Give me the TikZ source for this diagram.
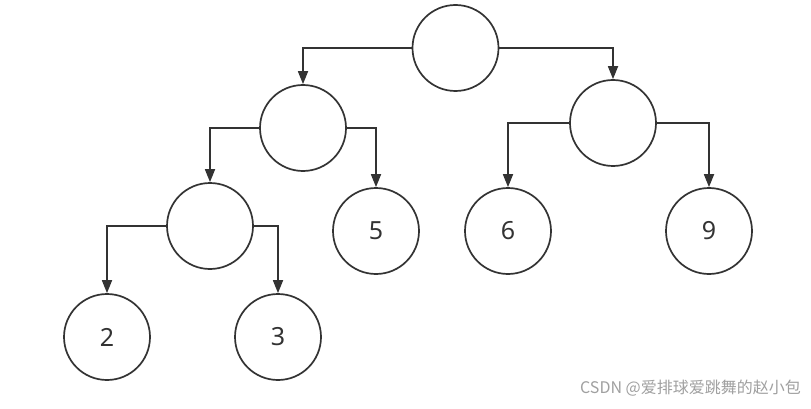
\documentclass[tikz,border=0pt]{standalone}
\usepackage{fontspec}
\setmainfont{Noto Sans}
\newfontfamily\cjk{Noto Sans CJK SC}
\usetikzlibrary{arrows.meta}
\definecolor{ink}{HTML}{333333}
\definecolor{wm}{HTML}{A0A0A0}
\begin{document}
\begin{tikzpicture}[x=1pt,y=-1pt,
  tnode/.style={circle,draw=ink,line width=1.7pt,minimum size=86pt,inner sep=0pt,
    text=ink,font=\fontsize{25}{25}\selectfont},
  link/.style={draw=ink,line width=1.7pt,-{Triangle[width=10pt,length=13pt]}}]
\useasboundingbox[fill=white] (0,0) rectangle (811,409);
\node[tnode] (r) at (455.5,48) {};
\node[tnode] (l) at (303,128) {};
\node[tnode] (rr) at (613,123) {};
\node[tnode] (ll) at (210,226) {};
\node[tnode] (n5) at (376,231) {5};
\node[tnode] (n6) at (508,231) {6};
\node[tnode] (n9) at (709,231) {9};
\node[tnode] (n2) at (107,337) {2};
\node[tnode] (n3) at (278,337) {3};
\draw[link] (r.west) -| (l.north);
\draw[link] (r.east) -| (rr.north);
\draw[link] (l.west) -| (ll.north);
\draw[link] (l.east) -| (n5.north);
\draw[link] (rr.west) -| (n6.north);
\draw[link] (rr.east) -| (n9.north);
\draw[link] (ll.west) -| (n2.north);
\draw[link] (ll.east) -| (n3.north);
\node[anchor=east,text=wm,inner sep=0pt,font=\cjk\fontsize{16}{16}\selectfont] (wmk) at (801,388) {CSDN @爱排球爱跳舞的赵小包};
\end{tikzpicture}
\end{document}
